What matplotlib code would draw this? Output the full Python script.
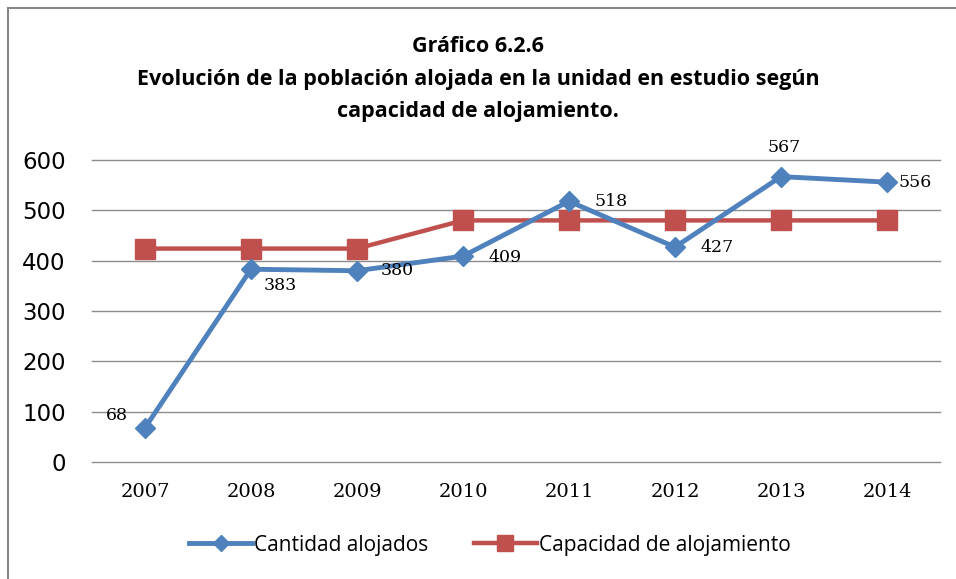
import matplotlib
matplotlib.use("Agg")
import matplotlib.pyplot as plt
from matplotlib.patches import Rectangle
from matplotlib.lines import Line2D

years = ["2007", "2008", "2009", "2010", "2011", "2012", "2013", "2014"]
alojados = [68, 383, 380, 409, 518, 427, 567, 556]
capacidad = [424, 424, 424, 480, 480, 480, 480, 480]
yticks = [0, 100, 200, 300, 400, 500, 600]
title_lines = ["Gráfico 6.2.6",
               "Evolución de la población alojada en la unidad en estudio según",
               "capacidad de alojamiento."]
series_names = ["Cantidad alojados", "Capacidad de alojamiento"]

BLUE = "#4F81BD"
RED = "#C0504D"
narrow = ["Open Sans", "DejaVu Sans"]

fig = plt.figure(figsize=(9.56, 5.79), dpi=100)
W, H = 956, 579

# outer border
fig.patches.append(Rectangle((8 / W, -0.05), 1.1, 1 - 8 / H + 0.05, transform=fig.transFigure,
                             fill=False, edgecolor="#878787", linewidth=1.5))

ax = fig.add_axes([92 / W, 1 - 462 / H, (940 - 92) / W, (462 - 160) / H])
x = list(range(len(years)))
ax.plot(x, capacidad, color=RED, lw=3.2, marker="s", ms=14, zorder=3)
ax.plot(x, alojados, color=BLUE, lw=3.5, marker="D", ms=10, zorder=4)

ax.set_xlim(-0.5, len(years) - 0.5)
ax.set_ylim(0, 600)
ax.set_yticks(yticks)
ax.set_yticklabels([str(v) for v in yticks], fontsize=16.5, family="DejaVu Sans")
ax.set_xticks(x)
ax.set_xticklabels(years, fontsize=14, family="DejaVu Serif")
ax.tick_params(length=0)
ax.tick_params(axis="x", pad=15)
ax.tick_params(axis="y", pad=19)
ax.grid(axis="y", color="#8c8c8c", lw=1)
for gl in ax.get_ygridlines():
    gl.set_clip_on(False)
ax.set_axisbelow(True)
for s in ax.spines.values():
    s.set_visible(False)

# data labels (offsets in points)
offsets = [(-20, 9), (21, -12), (29, 0), (30, -1), (30, 0), (30, 0), (2, 21), (20, 0)]
for xi, v, (dx, dy) in zip(x, alojados, offsets):
    ax.annotate(str(v), (xi, v), xytext=(dx, dy), textcoords="offset points",
                ha="center", va="center", fontsize=12.5, family="DejaVu Serif", zorder=5)

# title
ys = [46, 79, 112]
for t, yy in zip(title_lines, ys):
    fig.text(478 / W, 1 - yy / H, t, ha="center", va="center", fontsize=15.5,
             fontweight="bold", family=narrow)

handles = [Line2D([], [], color=BLUE, lw=3.5, marker="D", ms=8),
           Line2D([], [], color=RED, lw=3.2, marker="s", ms=11)]
fig.legend(handles, series_names, loc="center", bbox_to_anchor=(490 / W, 1 - 545 / H),
           ncol=2, frameon=False, prop={"family": narrow, "size": 15},
           handlelength=3.0, handletextpad=0.1, columnspacing=2.2)

fig.savefig("out.png", dpi=100)
